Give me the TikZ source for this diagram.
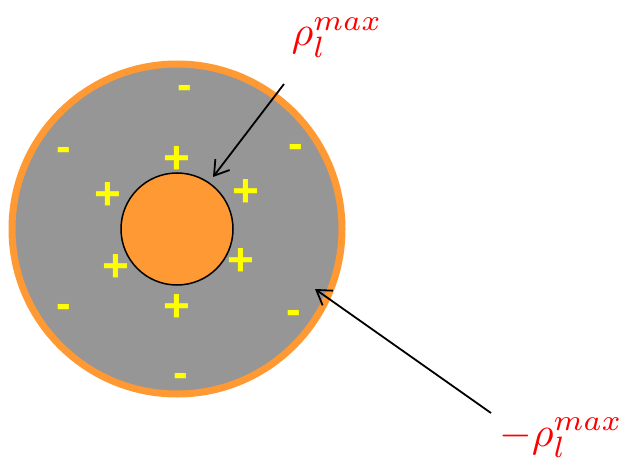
\documentclass[tikz,border=0pt]{standalone}
\usepackage{fontspec}
\usepackage{tikz}
\usetikzlibrary{arrows.meta}
\newfontfamily\signfont{Liberation Sans}
\definecolor{ringorange}{RGB}{255,153,51}
\definecolor{shellgrey}{RGB}{150,150,150}
\definecolor{signyellow}{RGB}{255,255,0}
\newcommand{\bigrho}[1]{\scalebox{4.2}{$#1\rho_l^{max}$}}

\begin{document}
\begin{tikzpicture}[x=1pt,y=-1pt,
    possign/.style={text=signyellow,inner sep=0pt,font=\signfont\bfseries\fontsize{46}{46}\selectfont},
    negsign/.style={text=signyellow,inner sep=0pt,font=\signfont\bfseries\fontsize{44}{44}\selectfont},
    rholabel/.style={text=red,inner sep=0pt},
    pointer/.style={-{Straight Barb[length=14pt,width=18pt]},line width=1.8pt}]
        \useasboundingbox (0,0) rectangle (626,465);
        % Define points
        \coordinate (O) at (177,229);
        % Outer shell and inner conductor
        \fill[shellgrey] (O) circle (165);
        \draw[ringorange,line width=7pt] (O) circle (165);
        \draw[fill=ringorange,line width=1.5pt] (O) circle (56);
        % Charges on the inner conductor
        \node[possign] (p1) at (177,160) {+};
        \node[possign] (p2) at (108,196) {+};
        \node[possign] (p3) at (246,193) {+};
        \node[possign] (p4) at (116,268) {+};
        \node[possign] (p5) at (241,262) {+};
        \node[possign] (p6) at (177,308) {+};
        % Charges on the outer shell
        \node[negsign] (n1) at (185,92) {-};
        \node[negsign] (n2) at (64,154) {-};
        \node[negsign] (n3) at (296,151) {-};
        \node[negsign] (n4) at (64,311) {-};
        \node[negsign] (n5) at (294,317) {-};
        \node[negsign] (n6) at (181,380) {-};
        % Labels
        \node[rholabel] (rhoin) at (337,38) {\bigrho{}};
        \node[rholabel,anchor=east] (rhoout) at (623,438) {\bigrho{-}};
        \coordinate (tailin) at (284,84);
        \coordinate (headin) at (213,177);
        \coordinate (tailout) at (491,413);
        \coordinate (headout) at (315,289);
        \draw[pointer] (tailin) -- (headin);
        \draw[pointer] (tailout) -- (headout);
\end{tikzpicture}
\end{document}
